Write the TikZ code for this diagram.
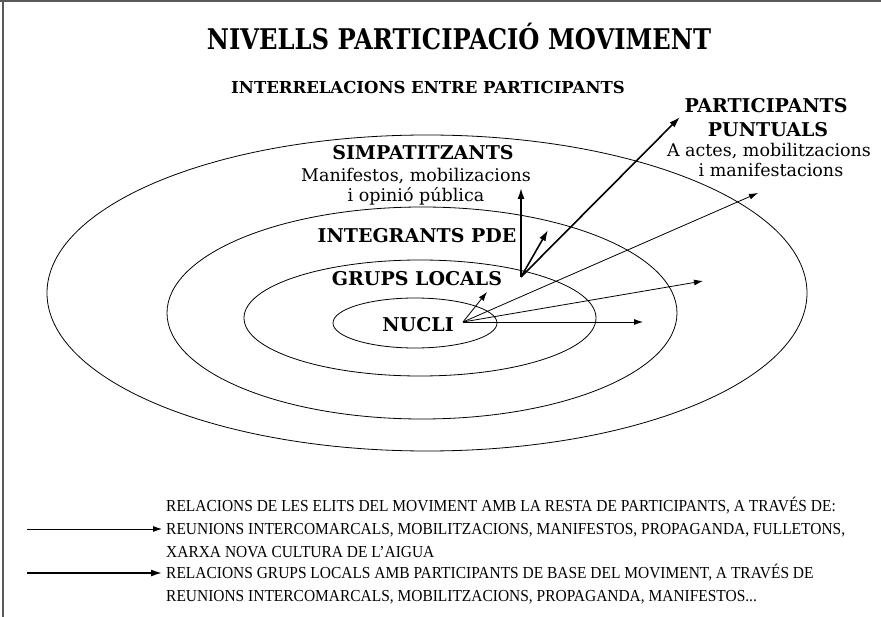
\documentclass[tikz,border=0pt]{standalone}
\usepackage{fontspec}
\setmainfont{DejaVu Serif}
\newfontfamily\legendfont{Liberation Serif}[FakeStretch=0.92]
\newfontfamily\titlefont{DejaVu Serif}[FakeStretch=0.85]
\usetikzlibrary{arrows.meta}

\tikzset{
    ring/.style={draw=black, line width=0.8pt},
    thinarrow/.style={-{Latex[length=9pt,width=6pt]}, line width=0.8pt},
    thickarrow/.style={-{Latex[length=11pt,width=7pt]}, line width=1.6pt},
    level/.style={font=\bfseries\fontsize{19}{22}\selectfont, anchor=base, inner sep=0pt},
    note/.style={font=\fontsize{17.5}{20}\selectfont, anchor=base, inner sep=0pt},
    legend/.style={font=\legendfont\fontsize{16.8}{20}\selectfont, anchor=base west, inner sep=0pt}
}

\begin{document}
\begin{tikzpicture}[x=1pt, y=-1pt]
    \useasboundingbox (0,0) rectangle (881,617);
    % frame
    \draw[line width=1.2pt, black!65] (0,1) -- (881,1);
    \draw[line width=1.2pt, black!65] (3,0) -- (3,617);

    % titles
    \node[font=\titlefont\bfseries\fontsize{28.5}{32}\selectfont, anchor=base, inner sep=0pt]
        (title) at (459,50) {NIVELLS PARTICIPACIÓ MOVIMENT};
    \node[font=\bfseries\fontsize{16.5}{20}\selectfont, anchor=base, inner sep=0pt]
        (subtitle) at (428,94) {INTERRELACIONS ENTRE PARTICIPANTS};

    % levels
    \draw[ring] (427,293) ellipse [x radius=380, y radius=158];
    \draw[ring] (422,313) ellipse [x radius=255, y radius=106];
    \draw[ring] (420,318) ellipse [x radius=176, y radius=58];
    \draw[ring] (415,323) ellipse [x radius=82, y radius=25];

    \node[level] (punt1) at (766,113) {PARTICIPANTS};
    \node[level] (punt2) at (768,137) {PUNTUALS};
    \node[note] (punt3) at (769,157) {A actes, mobilitzacions};
    \node[note] (punt4) at (771,177) {i manifestacions};

    \node[level] (simp1) at (423,160) {SIMPATITZANTS};
    \node[note] (simp2) at (416,182) {Manifestos, mobilizacions};
    \node[note] (simp3) at (416,202) {i opinió pública};

    \node[level] (integ) at (417,243) {INTEGRANTS PDE};
    \node[level] (grups) at (417,286) {GRUPS LOCALS};
    \node[level] (nucli) at (418,332) {NUCLI};

    % arrows
    \coordinate (nucliO) at (463,322);
    \coordinate (grupsO) at (521,277);
    \coordinate (toGrups) at (487,292);
    \coordinate (toInteg) at (643,322);
    \coordinate (toSimp) at (703,281);
    \coordinate (toPunt) at (758,193);
    \coordinate (upSimp) at (521,188);
    \coordinate (upInteg) at (548,230);
    \coordinate (upPunt) at (680,117);

    \foreach \t in {toGrups,toInteg,toSimp,toPunt}
        \draw[thinarrow] (nucliO) -- (\t);
    \foreach \t in {upSimp,upInteg,upPunt}
        \draw[thickarrow] (grupsO) -- (\t);

    % legend
    \coordinate (legA0) at (27,529);
    \coordinate (legA1) at (162,529);
    \coordinate (legB0) at (27,573);
    \coordinate (legB1) at (162,573);
    \draw[thinarrow] (legA0) -- (legA1);
    \draw[thickarrow] (legB0) -- (legB1);

    \node[legend] (legA) at (166,511) {RELACIONS DE LES ELITS DEL MOVIMENT AMB LA RESTA DE PARTICIPANTS, A TRAVÉS DE:};
    \node[legend] (legAb) at (166,534) {REUNIONS INTERCOMARCALS, MOBILITZACIONS, MANIFESTOS, PROPAGANDA, FULLETONS,};
    \node[legend] (legAc) at (166,557) {XARXA NOVA CULTURA DE L’AIGUA};
    \node[legend] (legB) at (166,578) {RELACIONS GRUPS LOCALS AMB PARTICIPANTS DE BASE DEL MOVIMENT, A TRAVÉS DE};
    \node[legend] (legBb) at (166,601) {REUNIONS INTERCOMARCALS, MOBILITZACIONS, PROPAGANDA, MANIFESTOS...};
\end{tikzpicture}
\end{document}
